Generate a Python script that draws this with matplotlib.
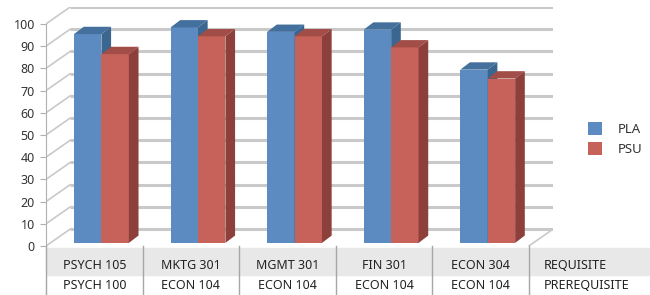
import matplotlib.pyplot as plt
from matplotlib.patches import Polygon, Patch

plt.rcParams['font.family'] = ['Noto Sans', 'DejaVu Sans']

requisites = ['PSYCH 105', 'MKTG 301', 'MGMT 301', 'FIN 301', 'ECON 304']
prerequisites = ['PSYCH 100', 'ECON 104', 'ECON 104', 'ECON 104', 'ECON 104']
pla = [94, 97, 95, 96, 78]
psu = [85, 93, 93, 88, 74]
yticks = list(range(0, 101, 10))

# oblique depth of the plot box, in data units
DX, DY = 0.25, 7.6
# bar depth and where its front face sits inside the box
BDX, BDY = 0.1, 3.3
FX, FY = 0.04, 1.4
BW = 0.284
BAR_START = 0.25

series = [
    (pla, '#5b8bc1', '#44709e', '#3a6690'),
    (psu, '#c6625a', '#a24d47', '#8c3f3b'),
]

fig = plt.figure(figsize=(6.5, 2.95), dpi=100)
W, H = 650, 295
ax = fig.add_axes([46 / W, 49 / H, 507 / W, 239 / H])
ax.set_xlim(0, len(requisites) + DX)
ax.set_ylim(0, 100 + DY)

grid_c = '#c9c9c9'
for v in yticks:
    ax.plot([DX, len(requisites) + DX], [v + DY, v + DY], color=grid_c, lw=2.2, zorder=1,
            solid_capstyle='butt')
    ax.plot([0, DX], [v, v + DY], color=grid_c, lw=1.2, zorder=1)
# floor right edge
ax.plot([len(requisites), len(requisites) + DX], [0, DY], color=grid_c, lw=1.2, zorder=1)

for i in range(len(requisites)):
    for k, (vals, c_front, c_top, c_side) in enumerate(series):
        v = vals[i]
        x0 = i + BAR_START + k * BW + FX
        x1 = x0 + BW
        y0 = FY
        y1 = FY + v
        z = 3 + k
        ax.add_patch(Polygon([(x0, y0), (x1, y0), (x1, y1), (x0, y1)],
                             closed=True, fc=c_front, ec='none', zorder=z))
        ax.add_patch(Polygon([(x0, y1), (x1, y1), (x1 + BDX, y1 + BDY), (x0 + BDX, y1 + BDY)],
                             closed=True, fc=c_top, ec='none', zorder=z))
        ax.add_patch(Polygon([(x1, y0), (x1 + BDX, y0 + BDY), (x1 + BDX, y1 + BDY), (x1, y1)],
                             closed=True, fc=c_side, ec='none', zorder=z))

for s in ['top', 'right', 'bottom']:
    ax.spines[s].set_visible(False)
ax.spines['left'].set_bounds(0, 100)
ax.spines['left'].set_color('#b0b0b0')
ax.set_yticks(yticks)
ax.set_xticks([])
ax.tick_params(axis='y', length=4, color='#b0b0b0', labelsize=9, labelcolor='#333333', pad=4)

# category table under the plot
tab = fig.add_axes([46 / W, 0, 604 / W, 48 / H])
px_per_unit = 507 / (len(requisites) + DX)
tab.set_xlim(0, 604 / px_per_unit)
tab.set_ylim(0, 1)
tab.axis('off')
tab.axhspan(0.42, 0.97, color='#e8e8e8', zorder=0)
for i in range(len(requisites) + 1):
    tab.plot([i, i], [0, 1.02], color='#a6a6a6', lw=1, zorder=2, clip_on=False)
for i, (r, p) in enumerate(zip(requisites, prerequisites)):
    tab.text(i + 0.5, 0.62, r, ha='center', va='center', fontsize=9, color='#222222')
    tab.text(i + 0.5, 0.19, p, ha='center', va='center', fontsize=9, color='#222222')
tab.text(len(requisites) + 0.15, 0.62, 'REQUISITE', ha='left', va='center', fontsize=9, color='#222222')
tab.text(len(requisites) + 0.15, 0.19, 'PREREQUISITE', ha='left', va='center', fontsize=9, color='#222222')

handles = [Patch(fc=series[0][1], ec='none'), Patch(fc=series[1][1], ec='none')]
fig.legend(handles, ['PLA', 'PSU'], loc='upper left', bbox_to_anchor=(576 / W, 1 - 110 / H),
           frameon=False, fontsize=9.5, handlelength=1.1, handleheight=1.1,
           handletextpad=1.2, labelspacing=0.5, labelcolor='#333333')

fig.savefig('out.png', dpi=100)
